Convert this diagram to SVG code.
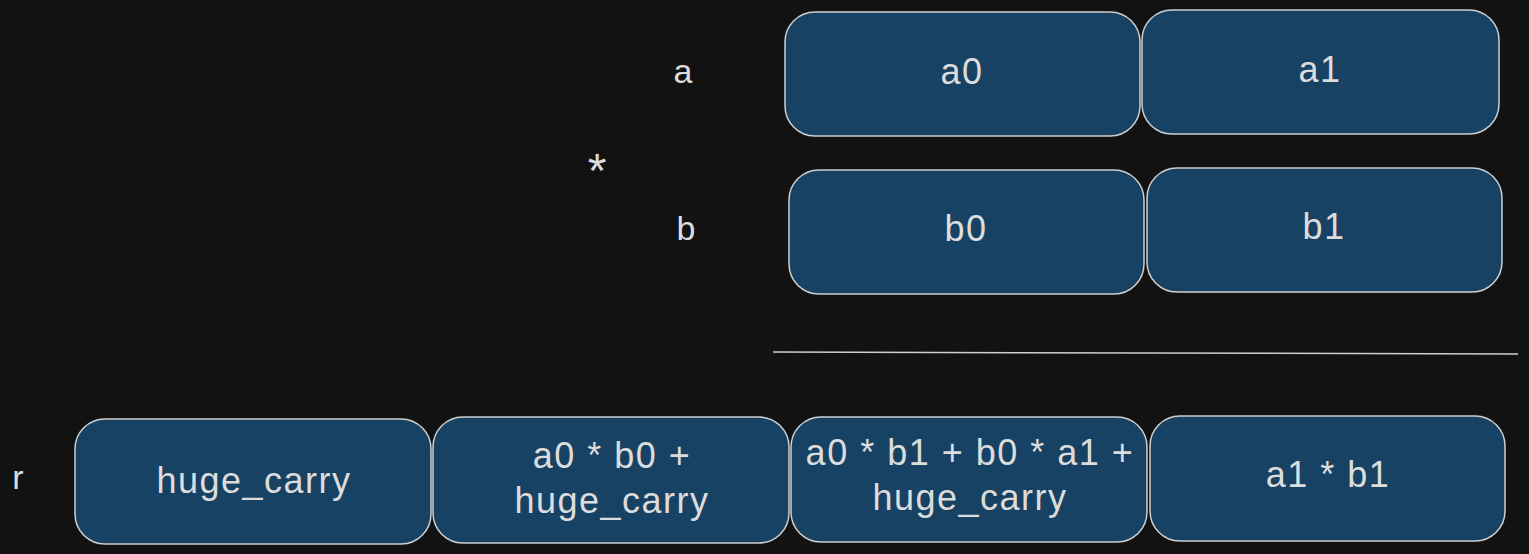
<svg xmlns="http://www.w3.org/2000/svg" width="1529" height="554" viewBox="0 0 1529 554">
<style>
.box{fill:#174263;stroke:#cfcfcf;stroke-width:1.5}
.t{font-family:"Liberation Sans",Arial,sans-serif;font-size:36px;fill:#dcdcdc;text-anchor:middle;letter-spacing:1.5px}
.lbl{font-family:"Liberation Sans",Arial,sans-serif;font-size:34px;fill:#dcdcdc;text-anchor:middle}
.rule{stroke:#cfcfcf;stroke-width:1.5;fill:none}
</style>
<rect width="1529" height="554" fill="#121212"/>
<g id="labels">
<text class="lbl" x="683" y="83">a</text>
<text class="lbl" x="597" y="187" style="font-size:48px">*</text>
<text class="lbl" x="686" y="240">b</text>
<text class="lbl" x="18" y="489">r</text>
</g>
<g id="a0"><rect class="box" x="785" y="12" width="355" height="124" rx="30"/><text class="t" x="962" y="84">a0</text></g>
<g id="a1"><rect class="box" x="1142" y="10" width="357" height="124" rx="30"/><text class="t" x="1320" y="82">a1</text></g>
<g id="b0"><rect class="box" x="789" y="170" width="355" height="124" rx="30"/><text class="t" x="966" y="241">b0</text></g>
<g id="b1"><rect class="box" x="1147" y="168" width="355" height="124" rx="30"/><text class="t" x="1324" y="239">b1</text></g>
<g id="connectors"><path class="rule" d="M773 352 L1518 354"/></g>
<g id="r0"><rect class="box" x="75" y="419" width="356" height="125" rx="30"/><text class="t" x="254" y="493">huge_carry</text></g>
<g id="r1"><rect class="box" x="433" y="417" width="356" height="126" rx="30"/><text class="t" x="612" y="468">a0 * b0 +</text><text class="t" x="612" y="513">huge_carry</text></g>
<g id="r2"><rect class="box" x="791" y="417" width="356" height="125" rx="30"/><text class="t" x="970" y="465">a0 * b1 + b0 * a1 +</text><text class="t" x="970" y="510">huge_carry</text></g>
<g id="r3"><rect class="box" x="1150" y="416" width="355" height="125" rx="30"/><text class="t" x="1328" y="487">a1 * b1</text></g>
</svg>
